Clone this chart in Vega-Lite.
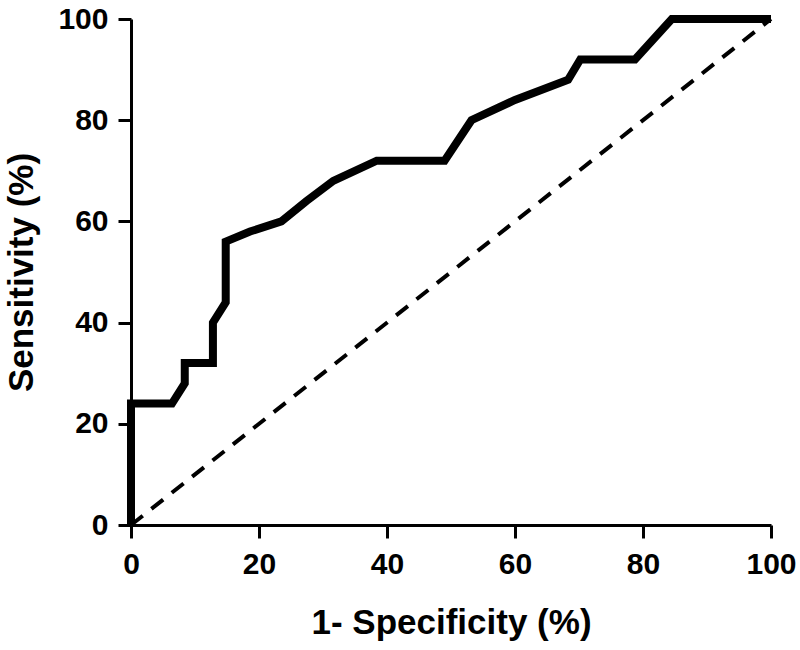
{
  "$schema": "https://vega.github.io/schema/vega-lite/v6.json",
  "width": 640,
  "height": 506,
  "autosize": {"type": "none"},
  "padding": {"left": 131, "top": 19, "right": 29, "bottom": 125},
  "background": "white",
  "config": {
    "view": {"stroke": null},
    "font": "Liberation Sans",
    "axis": {
      "grid": false,
      "domainColor": "black",
      "domainWidth": 3,
      "tickColor": "black",
      "tickWidth": 3,
      "tickSize": 13,
      "labelFont": "Liberation Sans",
      "labelFontSize": 30,
      "labelFontWeight": "bold",
      "labelColor": "black",
      "titleFont": "Liberation Sans",
      "titleFontSize": 35,
      "titleFontWeight": "bold",
      "titleColor": "black"
    }
  },
  "datasets": {
    "roc": [
      {"i": 0, "fpr": 0, "tpr": 0},
      {"i": 1, "fpr": 0, "tpr": 24},
      {"i": 2, "fpr": 6.4, "tpr": 24},
      {"i": 3, "fpr": 8.4, "tpr": 28},
      {"i": 4, "fpr": 8.4, "tpr": 32},
      {"i": 5, "fpr": 12.8, "tpr": 32},
      {"i": 6, "fpr": 12.8, "tpr": 40},
      {"i": 7, "fpr": 14.8, "tpr": 44},
      {"i": 8, "fpr": 14.8, "tpr": 56},
      {"i": 9, "fpr": 18.6, "tpr": 58},
      {"i": 10, "fpr": 23.5, "tpr": 60},
      {"i": 11, "fpr": 27.4, "tpr": 64},
      {"i": 12, "fpr": 31.6, "tpr": 68},
      {"i": 13, "fpr": 38.4, "tpr": 72},
      {"i": 14, "fpr": 49, "tpr": 72},
      {"i": 15, "fpr": 53.2, "tpr": 80},
      {"i": 16, "fpr": 60, "tpr": 84},
      {"i": 17, "fpr": 68.3, "tpr": 88},
      {"i": 18, "fpr": 70.2, "tpr": 92},
      {"i": 19, "fpr": 78.75, "tpr": 92},
      {"i": 20, "fpr": 84.5, "tpr": 100},
      {"i": 21, "fpr": 100, "tpr": 100}
    ],
    "ref": [
      {"i": 0, "fpr": 0, "tpr": 0},
      {"i": 1, "fpr": 100, "tpr": 100}
    ]
  },
  "layer": [
    {
      "data": {"name": "ref"},
      "mark": {"type": "line", "color": "black", "strokeWidth": 4, "strokeDash": [15, 11]},
      "encoding": {
        "x": {"field": "fpr", "type": "quantitative", "scale": {"domain": [0, 100], "nice": false},
          "axis": {"values": [0, 20, 40, 60, 80, 100], "title": "1- Specificity (%)", "labelPadding": 11, "titlePadding": 26, "labelFlush": false}},
        "y": {"field": "tpr", "type": "quantitative", "scale": {"domain": [0, 100], "nice": false},
          "axis": {"values": [0, 20, 40, 60, 80, 100], "title": "Sensitivity (%)", "labelPadding": 10, "titlePadding": 18, "labelFlush": false}},
        "order": {"field": "i", "type": "quantitative"}
      }
    },
    {
      "data": {"name": "roc"},
      "mark": {"type": "line", "color": "black", "strokeWidth": 8, "strokeJoin": "miter", "strokeCap": "butt"},
      "encoding": {
        "x": {"field": "fpr", "type": "quantitative"},
        "y": {"field": "tpr", "type": "quantitative"},
        "order": {"field": "i", "type": "quantitative"}
      }
    }
  ]
}
